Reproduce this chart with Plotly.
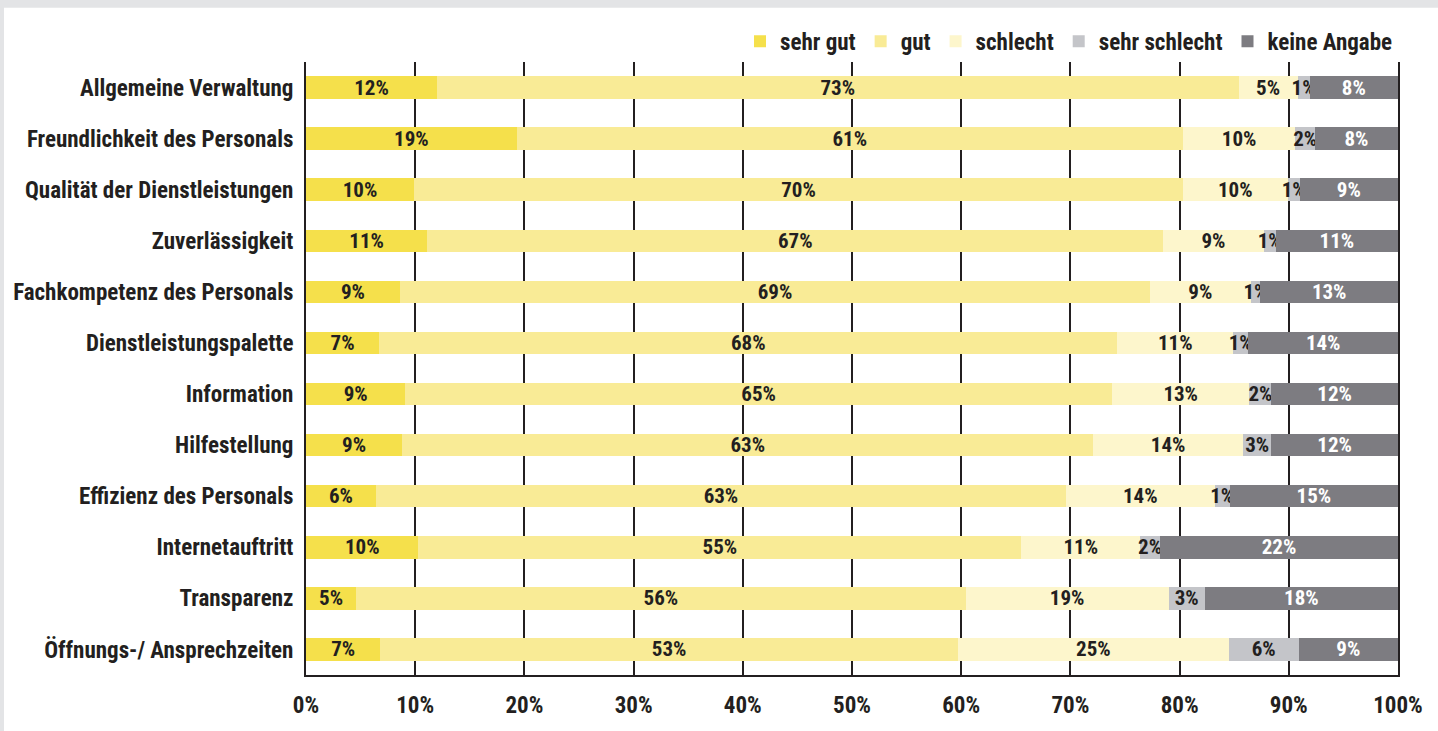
import plotly.graph_objects as go

categories = [
    "Allgemeine Verwaltung",
    "Freundlichkeit des Personals",
    "Qualität der Dienstleistungen",
    "Zuverlässigkeit",
    "Fachkompetenz des Personals",
    "Dienstleistungspalette",
    "Information",
    "Hilfestellung",
    "Effizienz des Personals",
    "Internetauftritt",
    "Transparenz",
    "Öffnungs-/ Ansprechzeiten",
]

series_names = ["sehr gut", "gut", "schlecht", "sehr schlecht", "keine Angabe"]

sehr_gut = [12.0, 19.3, 9.9, 11.1, 8.6, 6.7, 9.1, 8.8, 6.4, 10.3, 4.6, 6.8]
gut = [73.4, 61.0, 70.4, 67.4, 68.7, 67.6, 64.7, 63.3, 63.2, 55.2, 55.8, 52.9]
schlecht = [5.4, 10.3, 9.6, 9.2, 9.2, 10.6, 12.6, 13.7, 13.6, 10.9, 18.6, 24.8]
sehr_schlecht = [1.1, 1.8, 1.1, 1.1, 0.9, 1.4, 2.0, 2.6, 1.4, 1.8, 3.3, 6.4]
keine_angabe = [8.1, 7.6, 9.0, 11.2, 12.6, 13.7, 11.6, 11.6, 15.4, 21.8, 17.7, 9.1]

x_ticks = [0, 10, 20, 30, 40, 50, 60, 70, 80, 90, 100]
x_tick_labels = ["0%", "10%", "20%", "30%", "40%", "50%", "60%", "70%", "80%", "90%", "100%"]

series_values = [sehr_gut, gut, schlecht, sehr_schlecht, keine_angabe]
colors = ["#f5e04b", "#f9eb96", "#fdf6cc", "#c4c5c9", "#7d7c81"]
text_colors = ["#231f20", "#231f20", "#231f20", "#231f20", "#ffffff"]

FONT = "Liberation Sans Narrow, Arial Narrow, Roboto Condensed, sans-serif"
DARK = "#231f20"

fig = go.Figure()
for name, vals, col, tcol in zip(series_names, series_values, colors, text_colors):
    fig.add_trace(go.Bar(
        y=categories, x=vals, name=name, orientation="h",
        marker=dict(color=col, line=dict(width=0)),
        texttemplate="%{x:.0f}%", textposition="inside",
        insidetextanchor="middle", textangle=0,
        textfont=dict(family=FONT, size=21, color=tcol, weight="bold"),
        hoverinfo="skip",
    ))

W, H = 1438, 731
L, R, T, B = 306, 40, 62, 48
pw, ph = W - L - R, H - T - B

fig.update_layout(
    width=W, height=H,
    barmode="stack", bargap=0.56,
    paper_bgcolor="#e3e4e6", plot_bgcolor="#ffffff",
    margin=dict(l=L, r=R, t=T, b=B, pad=0),
    font=dict(family=FONT, color=DARK, size=23, weight="bold"),
    uniformtext=dict(minsize=21, mode="show"),
    legend=dict(
        orientation="h", x=1.0, xanchor="right", y=(H - B - 41) / ph, yanchor="middle",
        font=dict(family=FONT, size=23, color=DARK, weight="bold"),
        bgcolor="rgba(0,0,0,0)", traceorder="normal",
    ),
    xaxis=dict(
        range=[0, 100], tickmode="array", tickvals=x_ticks, ticktext=x_tick_labels,
        showgrid=True, gridcolor=DARK, gridwidth=1.5,
        showline=True, linecolor=DARK, linewidth=2, zeroline=False,
        ticks="", ticklabelstandoff=8,
        tickfont=dict(family=FONT, size=23, color=DARK, weight="bold"),
    ),
    yaxis=dict(
        categoryorder="array", categoryarray=categories,
        range=[len(categories) - 0.5, -0.5],
        showgrid=False, showline=True, mirror=True, linecolor=DARK, linewidth=2,
        ticks="", ticklabelstandoff=6, zeroline=False,
        tickfont=dict(family=FONT, size=23, color=DARK, weight="bold"),
    ),
    shapes=[dict(
        type="rect", xref="paper", yref="paper", layer="below",
        x0=(4 - L) / pw, x1=(W + 20 - L) / pw,
        y0=-(B + 20) / ph, y1=(H - B - 7) / ph,
        fillcolor="#ffffff", line=dict(width=0),
    )],
)

fig.write_html(
    "out.html",
    config={"displayModeBar": False},
    post_script="document.body.style.margin='0';document.body.style.padding='0';"
                "document.body.style.overflow='hidden';",
)
